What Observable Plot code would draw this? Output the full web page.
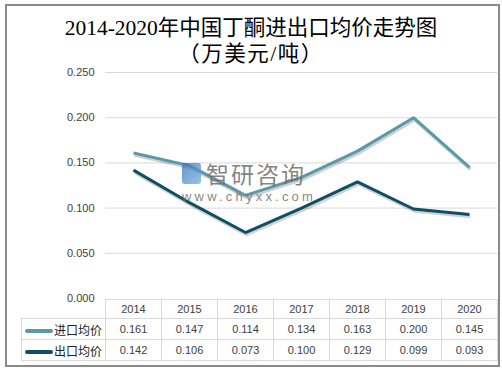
<!DOCTYPE html>
<html>
<head>
<meta charset="utf-8">
<script src="https://cdn.jsdelivr.net/npm/d3@7"></script>
<script src="https://cdn.jsdelivr.net/npm/@observablehq/plot@0.6"></script>
<style>
  html, body { margin: 0; padding: 0; background: #fff; }
  #wrap { position: relative; width: 502px; height: 370px; overflow: hidden; }
  #frame { position: absolute; left: 5px; top: 4px; width: 491px; height: 359px; border: 2px solid #8a8a8a; pointer-events: none; }
  #title { height: 62px; text-align: center; font-family: "Liberation Serif", "Noto Sans CJK SC", serif; font-size: 21.5px; color: #000; line-height: 26px; padding-top: 15px; box-sizing: border-box; }
  #title div { white-space: nowrap; }
  #title .sub { letter-spacing: 1.5px; }
  #chart svg { display: block; }
  #tbl { position: absolute; left: 21px; top: 299px; border-collapse: collapse; table-layout: fixed; font-family: "Liberation Sans", sans-serif; font-size: 11px; color: #404040; }
  #tbl td { border: 1px solid #d9d9d9; padding: 0; text-align: center; box-sizing: border-box; }
  #tbl tr.h td { height: 19px; }
  #tbl tr.r td { height: 21px; }
  #tbl td.blank { border: none; border-right: 1px solid #d9d9d9; }
  #tbl td.leg { text-align: left; font-family: "Noto Sans CJK SC", sans-serif; font-size: 12px; color: #222; white-space: nowrap; }
  .sw { display: inline-block; width: 28px; height: 4px; border-radius: 2px; vertical-align: middle; margin: 0 1px 0 3px; }
  #wm { position: absolute; left: 182px; top: 160px; color: rgba(110,110,110,0.85); font-family: "Noto Sans CJK SC", sans-serif; pointer-events: none; }
  #wm .cn { font-size: 23px; line-height: 26px; letter-spacing: 2px; padding-left: 24px; position: relative; }
  #wm .logo { position: absolute; left: 0; top: 3px; width: 19px; height: 21px; border-radius: 3px; background: linear-gradient(135deg, #3a6fb5, #6fb0e0); opacity: 0.75; }
  #wm .url { font-family: "Liberation Sans", sans-serif; font-size: 13px; letter-spacing: 3.2px; margin-top: 3px; }
</style>
</head>
<body>
<div id="wrap">
  <div id="title"><div>2014-2020年中国丁酮进出口均价走势图</div><div class="sub">（万美元/吨）</div></div>
  <div id="chart"></div>
  <div id="wm"><div class="cn"><span class="logo"></span>智研咨询</div><div class="url">www.chyxx.com</div></div>
  <table id="tbl"></table>
  <div id="frame"></div>
</div>
<script>
const years = ["2014", "2015", "2016", "2017", "2018", "2019", "2020"];
const importPrice = [0.161, 0.147, 0.114, 0.134, 0.163, 0.200, 0.145];
const exportPrice = [0.142, 0.106, 0.073, 0.100, 0.129, 0.099, 0.093];
const seriesNames = ["进口均价", "出口均价"];
const yTicks = [0, 0.05, 0.10, 0.15, 0.20, 0.25];

const seriesColors = ["#5b98a9", "#0f4f66"];
const seriesValues = [importPrice, exportPrice];

const rows = [];
seriesNames.forEach((s, i) => {
  years.forEach((y, j) => rows.push({series: s, year: y, value: seriesValues[i][j]}));
});

const fmt = d3.format(".3f");

const plot = Plot.plot({
  width: 502,
  height: 246,
  marginLeft: 105,
  marginRight: 5,
  marginTop: 10,
  marginBottom: 10,
  style: {fontFamily: "Liberation Sans, sans-serif", background: "transparent", overflow: "visible"},
  x: {type: "band", domain: years, padding: 0, axis: null},
  y: {domain: [0, 0.25], axis: null, label: null},
  color: {domain: seriesNames, range: seriesColors},
  marks: [
    Plot.gridY(yTicks.slice(1), {stroke: "#d9d9d9", strokeOpacity: 1, strokeWidth: 1}),
    Plot.axisY(yTicks, {tickSize: 0, tickPadding: 11, tickFormat: fmt, fontSize: 11, fill: "#404040", label: null}),
    Plot.line(rows, {x: "year", y: "value", z: "series", stroke: "#000", strokeOpacity: 0.18, strokeWidth: 3.5, dx: 1, dy: 2, strokeLinecap: "butt"}),
    Plot.line(rows, {x: "year", y: "value", z: "series", stroke: "series", strokeWidth: 3, strokeLinecap: "butt"})
  ]
});
document.getElementById("chart").appendChild(plot);

// data table (acts as x axis + legend)
const tbl = document.getElementById("tbl");
const colgroup = document.createElement("colgroup");
const c0 = document.createElement("col"); c0.style.width = "84px"; colgroup.appendChild(c0);
years.forEach(() => { const c = document.createElement("col"); c.style.width = "56px"; colgroup.appendChild(c); });
tbl.appendChild(colgroup);
const hr = document.createElement("tr"); hr.className = "h";
const hb = document.createElement("td"); hb.className = "blank"; hr.appendChild(hb);
years.forEach(y => { const td = document.createElement("td"); td.textContent = y; hr.appendChild(td); });
tbl.appendChild(hr);
seriesNames.forEach((s, i) => {
  const tr = document.createElement("tr"); tr.className = "r";
  const lg = document.createElement("td"); lg.className = "leg";
  const sw = document.createElement("span"); sw.className = "sw"; sw.style.background = seriesColors[i];
  lg.appendChild(sw); lg.appendChild(document.createTextNode(s));
  tr.appendChild(lg);
  seriesValues[i].forEach(v => { const td = document.createElement("td"); td.textContent = fmt(v); tr.appendChild(td); });
  tbl.appendChild(tr);
});
</script>
</body>
</html>
